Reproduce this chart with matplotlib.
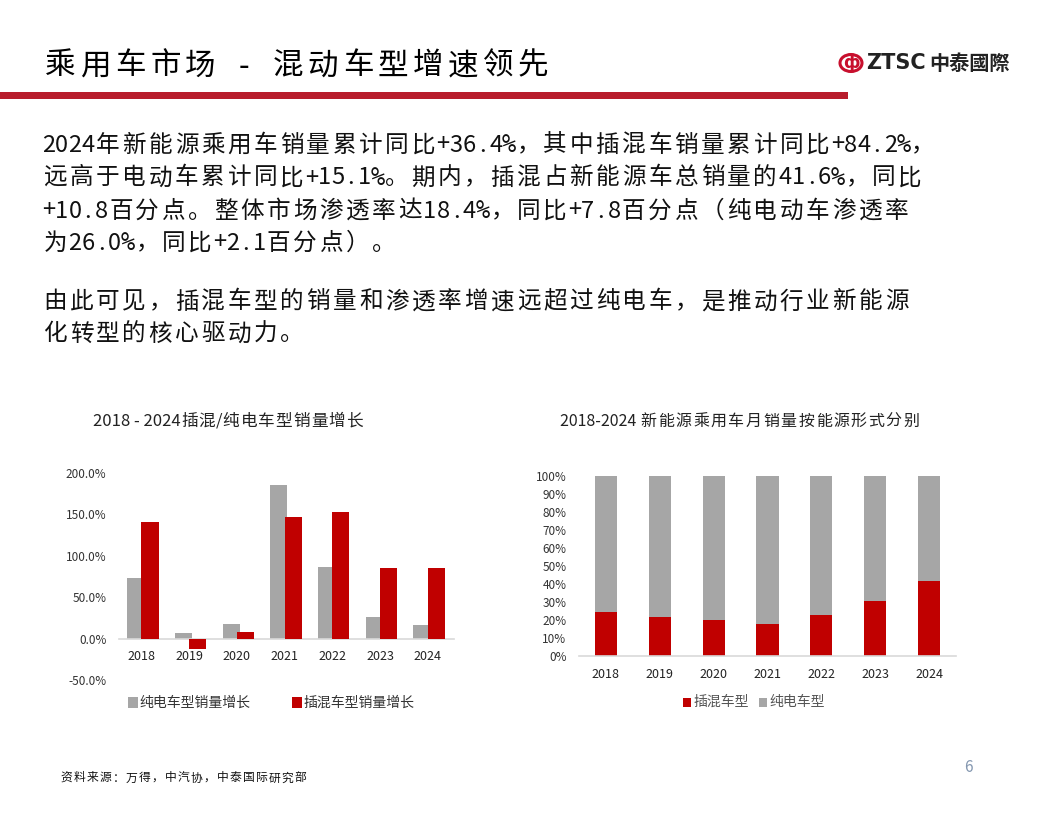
import numpy as np
import matplotlib
matplotlib.use("Agg")
import matplotlib.pyplot as plt
from matplotlib.patches import Rectangle, Circle

plt.rcParams['font.family'] = ['Noto Sans CJK SC', 'DejaVu Sans']

W, H = 1056, 816

# data
years = ['2018', '2019', '2020', '2021', '2022', '2023', '2024']
bev_growth = [73.0, 6.8, 17.7, 185.0, 86.0, 26.0, 17.0]
phev_growth = [140.5, -13.0, 8.0, 147.0, 152.5, 85.0, 85.8]
phev_share = [24.6, 21.7, 20.2, 18.0, 22.8, 30.6, 41.6]
bev_share = [100 - v for v in phev_share]

title = '乘用车市场 - 混动车型增速领先'
body = [
    '2024年新能源乘用车销量累计同比+36.4%，其中插混车销量累计同比+84.2%，',
    '远高于电动车累计同比+15.1%。期内，插混占新能源车总销量的41.6%，同比',
    '+10.8百分点。整体市场渗透率达18.4%，同比+7.8百分点（纯电动车渗透率',
    '为26.0%，同比+2.1百分点）。',
    '由此可见，插混车型的销量和渗透率增速远超过纯电车，是推动行业新能源',
    '化转型的核心驱动力。',
]
body_y = [145, 178, 211, 243, 302, 334]
source = '资料来源：万得，中汽协，中泰国际研究部'

RED = '#C00000'
GRAY = '#A6A6A6'
AXIS = '#D9D9D9'


def fx(x):
    return x / W


def fy(y):
    return 1 - y / H


fig = plt.figure(figsize=(W / 100, H / 100), dpi=100)
fig.patch.set_facecolor('white')
renderer = fig.canvas.get_renderer()


def spaced_text(x, y, s, size, adv, color, mono_ascii=True):
    # cjk glyphs on a fixed grid, ascii either half-width grid or natural width
    i = 0
    while i < len(s):
        ch = s[i]
        if ord(ch) < 128:
            if mono_ascii:
                if ch == '%':
                    # the cjk font's % is too wide for a half cell
                    fig.text(fx(x + adv / 4), fy(y), ch, fontsize=size, color=color,
                             ha='center', va='center', family=['DejaVu Sans Mono'])
                else:
                    fig.text(fx(x + adv / 4), fy(y), ch, fontsize=size, color=color,
                             ha='center', va='center')
                x += adv / 2
                i += 1
            else:
                j = i
                while j < len(s) and ord(s[j]) < 128:
                    j += 1
                t = fig.text(fx(x), fy(y), s[i:j], fontsize=size, color=color,
                             ha='left', va='center')
                x += t.get_window_extent(renderer).width
                i = j
        else:
            fig.text(fx(x + adv / 2), fy(y), ch, fontsize=size, color=color,
                     ha='center', va='center')
            x += adv
            i += 1


# header
spaced_text(43, 66, title, 22, 35, 'black')
fig.add_artist(Rectangle((0, fy(99)), fx(848), 7 / H, transform=fig.transFigure,
                         facecolor='#B81C2C', edgecolor='none'))

# logo
fig.add_artist(Circle((fx(851), fy(63)), 11 / W, transform=fig.transFigure,
                      facecolor='white', edgecolor='#C8102E', linewidth=2.2))
fig.text(fx(851), fy(63), 'ф', fontsize=12, color='#C8102E', ha='center', va='center',
         fontweight='bold', family=['DejaVu Sans'])
fig.text(fx(866), fy(63), 'ZTSC', fontsize=15, fontweight='bold', color='#222222',
         ha='left', va='center', family=['DejaVu Sans'])
fig.text(fx(929), fy(63), '中泰國際', fontsize=14.5, fontweight='bold', color='#222222',
         ha='left', va='center', family=['Noto Sans CJK TC'])

# body text
for line, y in zip(body, body_y):
    spaced_text(42, y, line, 17, 26.3, '#111111')

# left chart
spaced_text(93, 421, '2018 - 2024插混/纯电车型销量增长', 12, 17.6, '#222222',
            mono_ascii=False)
ax1 = fig.add_axes([fx(119), fy(680), fx(454 - 119), (680 - 473) / H])
x = np.arange(len(years))
ax1.bar(x - 0.12, bev_growth, width=0.36, color=GRAY, zorder=2)
ax1.bar(x + 0.18, phev_growth, width=0.36, color=RED, zorder=3)
ax1.set_xlim(-0.47, 6.55)
ax1.set_ylim(-50, 200)
ax1.set_yticks([-50, 0, 50, 100, 150, 200])
ax1.set_yticklabels([f'{v:.1f}%' for v in [-50, 0, 50, 100, 150, 200]])
ax1.set_xticks(x)
ax1.set_xticklabels(years)
for s in ['top', 'right', 'left']:
    ax1.spines[s].set_visible(False)
ax1.spines['bottom'].set_position(('data', 0))
ax1.spines['bottom'].set_color(AXIS)
ax1.spines['bottom'].set_linewidth(1.2)
ax1.tick_params(axis='y', length=0, labelsize=8.5, colors='#333333', pad=9)
ax1.tick_params(axis='x', length=0, labelsize=9, colors='#222222', pad=8)

# left legend
fig.add_artist(Rectangle((fx(128), fy(708)), 10 / W, 11 / H, transform=fig.transFigure,
                         facecolor=GRAY, edgecolor='none'))
fig.text(fx(139), fy(703), '纯电车型销量增长', fontsize=10, color='#333333', ha='left', va='center')
fig.add_artist(Rectangle((fx(292), fy(708)), 10 / W, 11 / H, transform=fig.transFigure,
                         facecolor=RED, edgecolor='none'))
fig.text(fx(303), fy(703), '插混车型销量增长', fontsize=10, color='#333333', ha='left', va='center')

# right chart
spaced_text(560, 421, '2018-2024 新能源乘用车月销量按能源形式分别', 11.5, 17.5, '#222222',
            mono_ascii=False)
ax2 = fig.add_axes([fx(579), fy(656), fx(956 - 579), (656 - 476) / H])
ax2.bar(x, phev_share, width=0.41, color=RED, zorder=2)
ax2.bar(x, bev_share, width=0.41, bottom=phev_share, color=GRAY, zorder=2)
ax2.set_xlim(-0.5, 6.5)
ax2.set_ylim(0, 100)
ax2.set_yticks(np.arange(0, 101, 10))
ax2.set_yticklabels([f'{v}%' for v in range(0, 101, 10)])
ax2.set_xticks(x)
ax2.set_xticklabels(years)
for s in ['top', 'right', 'left']:
    ax2.spines[s].set_visible(False)
ax2.spines['bottom'].set_color(AXIS)
ax2.spines['bottom'].set_linewidth(1.2)
ax2.tick_params(axis='y', length=0, labelsize=8.5, colors='#333333', pad=9)
ax2.tick_params(axis='x', length=0, labelsize=9, colors='#222222', pad=9)

# right legend
fig.add_artist(Rectangle((fx(683), fy(707)), 8 / W, 9 / H, transform=fig.transFigure,
                         facecolor=RED, edgecolor='none'))
fig.text(fx(693), fy(702), '插混车型', fontsize=10, color='#555555', ha='left', va='center')
fig.add_artist(Rectangle((fx(759), fy(707)), 8 / W, 9 / H, transform=fig.transFigure,
                         facecolor=GRAY, edgecolor='none'))
fig.text(fx(769), fy(702), '纯电车型', fontsize=10, color='#555555', ha='left', va='center')

# footer
spaced_text(60, 778, source, 8.5, 13, '#111111')
fig.text(fx(968), fy(768), '6', fontsize=11, color='#8497B0', ha='center', va='center')

fig.savefig('out.png', dpi=100)
